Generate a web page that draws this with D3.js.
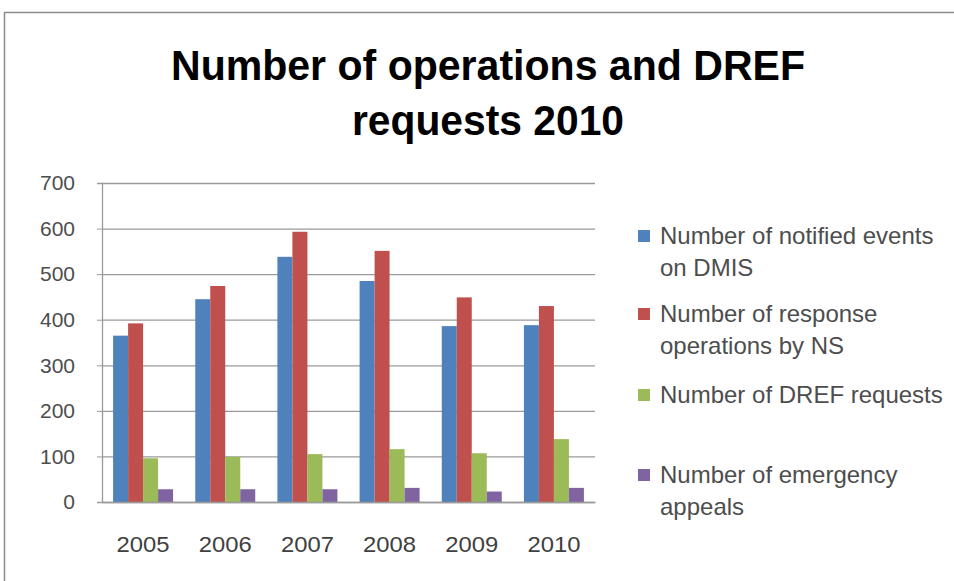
<!DOCTYPE html>
<html>
<head>
<meta charset="utf-8">
<script src="https://cdn.jsdelivr.net/npm/d3@7"></script>
<style>
  body { margin: 0; background: #fff; }
  svg { display: block; }
</style>
</head>
<body>
<svg id="chart"></svg>
<script>
const years = ["2005", "2006", "2007", "2008", "2009", "2010"];
const seriesNames = [
  ["Number of notified events", "on DMIS"],
  ["Number of response", "operations by NS"],
  ["Number of DREF requests"],
  ["Number of emergency", "appeals"]
];
const notifiedEvents = [365, 445, 538, 485, 386, 388];
const responseOps = [392, 474, 593, 551, 449, 430];
const drefRequests = [96, 99, 105, 116, 107, 138];
const emergencyAppeals = [28, 28, 28, 31, 23, 31];
const yTicks = [0, 100, 200, 300, 400, 500, 600, 700];
const titleLines = ["Number of operations and DREF", "requests 2010"];

const series = [notifiedEvents, responseOps, drefRequests, emergencyAppeals];
const colors = ["#4F81BD", "#C0504D", "#9BBB59", "#8064A2"];

const W = 954, H = 581;
const margin = { top: 183, left: 102, right: 359, bottom: 79 };
const w = W - margin.left - margin.right;
const h = H - margin.top - margin.bottom;
const font = "'Liberation Sans', Arial, sans-serif";

const svg = d3.select("#chart").attr("width", W).attr("height", H);

// outer frame, only top and left edges show
svg.append("path")
  .attr("d", `M4.5,${H} L4.5,12.5 L${W},12.5`)
  .attr("fill", "none")
  .attr("stroke", "#8c8c8c")
  .attr("stroke-width", 1.5);

// title
svg.append("g").selectAll("text").data(titleLines).enter()
  .append("text")
  .attr("x", 488)
  .attr("y", (d, i) => 80 + i * 55)
  .attr("text-anchor", "middle")
  .attr("textLength", (d, i) => i === 0 ? 634 : 272)
  .attr("lengthAdjust", "spacingAndGlyphs")
  .style("font-family", font)
  .style("font-weight", 700)
  .style("font-size", "43px")
  .attr("fill", "#000")
  .text(d => d);

const g = svg.append("g").attr("transform", `translate(${margin.left},${margin.top})`);

const x0 = d3.scaleBand().domain(years).range([0, w]).paddingInner(0.27).paddingOuter(0.135);
const x1 = d3.scaleBand().domain(d3.range(series.length)).range([0, x0.bandwidth()]);
const y = d3.scaleLinear().domain([0, 700]).range([h, 0]);

// gridlines
g.append("g")
  .call(d3.axisLeft(y).tickValues(yTicks).tickSize(-w).tickFormat(""))
  .call(s => s.select(".domain").remove())
  .selectAll("line")
  .attr("stroke", "#9a9a9a")
  .attr("stroke-width", 1.3);

// y axis
const yAxis = g.append("g")
  .call(d3.axisLeft(y).tickValues(yTicks).tickSize(5).tickPadding(22).tickFormat(d3.format("d")));
yAxis.select(".domain").attr("stroke", "#9a9a9a").attr("stroke-width", 1.3);
yAxis.selectAll("line").attr("stroke", "#9a9a9a");
yAxis.selectAll("text")
  .style("font-family", font)
  .style("font-size", "21px")
  .attr("fill", "#4d4d4d");

// bars
const groups = g.append("g").selectAll("g").data(years).enter()
  .append("g")
  .attr("transform", d => `translate(${x0(d)},0)`);

groups.selectAll("rect")
  .data((d, i) => series.map((s, k) => ({ k: k, v: s[i] })))
  .enter()
  .append("rect")
  .attr("x", d => x1(d.k))
  .attr("y", d => y(d.v))
  .attr("width", x1.bandwidth())
  .attr("height", d => h - y(d.v))
  .attr("fill", d => colors[d.k]);

// x axis
const xAxis = g.append("g")
  .attr("transform", `translate(0,${h})`)
  .call(d3.axisBottom(x0).tickSize(0).tickPadding(34));
xAxis.select(".domain").attr("stroke", "#9a9a9a").attr("stroke-width", 1.3);
xAxis.selectAll("text")
  .style("font-family", font)
  .style("font-size", "22px")
  .attr("textLength", 53)
  .attr("lengthAdjust", "spacingAndGlyphs")
  .attr("fill", "#404040");

// legend
const legendY = [236, 314, 395, 475];
const legend = svg.append("g").selectAll("g").data(seriesNames).enter()
  .append("g")
  .attr("transform", (d, i) => `translate(638,${legendY[i]})`);

legend.append("rect")
  .attr("x", 0)
  .attr("y", -6)
  .attr("width", 12)
  .attr("height", 12)
  .attr("fill", (d, i) => colors[i]);

legend.selectAll("text")
  .data(d => d)
  .enter()
  .append("text")
  .attr("x", 22)
  .attr("y", (d, i) => 8 + i * 32)
  .style("font-family", font)
  .style("font-size", "24px")
  .attr("fill", "#4d4d4d")
  .text(d => d);
</script>
</body>
</html>
